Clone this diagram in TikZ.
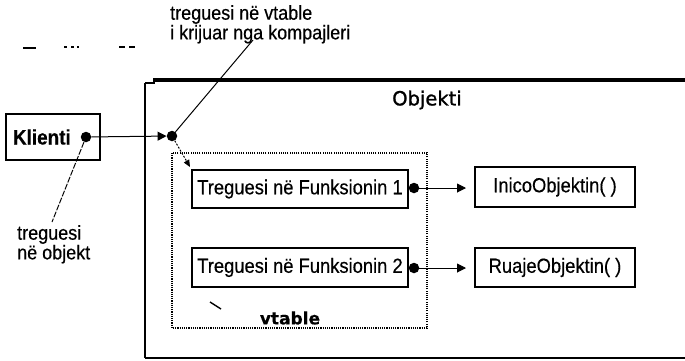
\documentclass[tikz,border=0pt]{standalone}
\usepackage{fontspec}
\setmainfont[FakeStretch=0.9,FakeBold=0.4]{Liberation Sans}
\newfontfamily\dvfont[FakeBold=1.2]{DejaVu Sans}
\newfontfamily\dvbold[FakeBold=0.3]{DejaVu Sans Bold}
\usetikzlibrary{arrows.meta}
\begin{document}
\begin{tikzpicture}[x=1pt,y=-1pt,
  txt/.style={font=\fontsize{20}{18.5}\selectfont, inner sep=0pt},
  box/.style={draw, line width=1.7pt, inner sep=0pt, font=\fontsize{20.4}{20}\selectfont},
  dot/.style={circle, fill, inner sep=0pt, minimum size=10.5pt},
  arr/.style={line width=1pt, -{Triangle[length=9pt,width=9pt]}},
  thin/.style={line width=1pt}
]
\useasboundingbox (0,0) rectangle (685,360);
% scan remnants at top left
\draw[line width=1.2pt] (23,48) -- (36,48);
\draw[line width=1.2pt] (64,47) -- (67,47) (71,47) -- (74,47) (77,47) -- (79,47);
\draw[line width=1.2pt] (119,47) -- (125,47) (129,47) -- (135,47);

% Objekti outer box
\draw[line width=3.2pt] (153,80) -- (685,80);
\draw[line width=1.3pt] (145,83) -- (155,83);
\draw[line width=1.5pt] (145,83) -- (145,358);
\draw[line width=2.2pt] (145,358) -- (685,358);
\node[font=\dvfont\fontsize{19.5}{20}\selectfont, inner sep=0pt] (objekti) at (427,100) {Objekti};

% vtable dotted box
\draw[line width=1.6pt, dash pattern=on 1.1pt off 1.1pt] (172,153) rectangle (427,328);
\node[font=\dvbold\fontsize{17}{18}\selectfont, inner sep=0pt] (vtable) at (290,318) {vtable};

% Klienti
\node[box, line width=1.9pt, minimum width=94pt, minimum height=46pt, text width=80pt, align=left, inner xsep=7pt, font=\bfseries\fontsize{21}{20}\selectfont] (klienti) at (53,137) {Klienti};
\node[dot] (d0) at (86,137) {};
\node[dot] (d1) at (172,136) {};
\draw[arr] (d0) -- (d1);

% function pointer boxes
\node[box, minimum width=216pt, minimum height=38pt] (f1) at (300,189) {Treguesi në Funksionin 1};
\node[box, minimum width=216pt, minimum height=39pt] (f2) at (300,267.5) {Treguesi në Funksionin 2};
\node[box, line width=2pt, minimum width=160pt, minimum height=40pt] (r1) at (555,187) {InicoObjektin( )};
\node[box, line width=2pt, minimum width=160pt, minimum height=39pt] (r2) at (555,267.5) {RuajeObjektin( )};
\node[dot] (e1) at (414,188) {};
\node[dot] (e2) at (414,268) {};
\draw[arr, shorten >=8pt] (e1) -- (r1.west |- e1);
\draw[arr, shorten >=8pt] (e2) -- (r2.west |- e2);

% dotted arrow from vtable pointer to first entry
\coordinate (ft) at (190,167);
\draw[line width=1pt, dash pattern=on 2pt off 1.5pt, -{Triangle[length=7pt,width=6pt]}] (d1) -- (ft);

% annotations
\node[txt, anchor=north west, align=left] (ann1) at (170,5) {treguesi në vtable\\i krijuar nga kompajleri};
\coordinate (a1) at (253,40);
\draw[thin] (d1) -- (a1);
\node[txt, anchor=north west, align=left] (ann2) at (17,225) {treguesi\\në objekt};
\coordinate (a2) at (52,222);
\draw[thin, dash pattern=on 6pt off 1.5pt] (d0) -- (a2);

% small tick
\coordinate (t1) at (210,302);
\coordinate (t2) at (221,309);
\draw[line width=1.4pt] (t1) -- (t2);
\end{tikzpicture}
\end{document}
